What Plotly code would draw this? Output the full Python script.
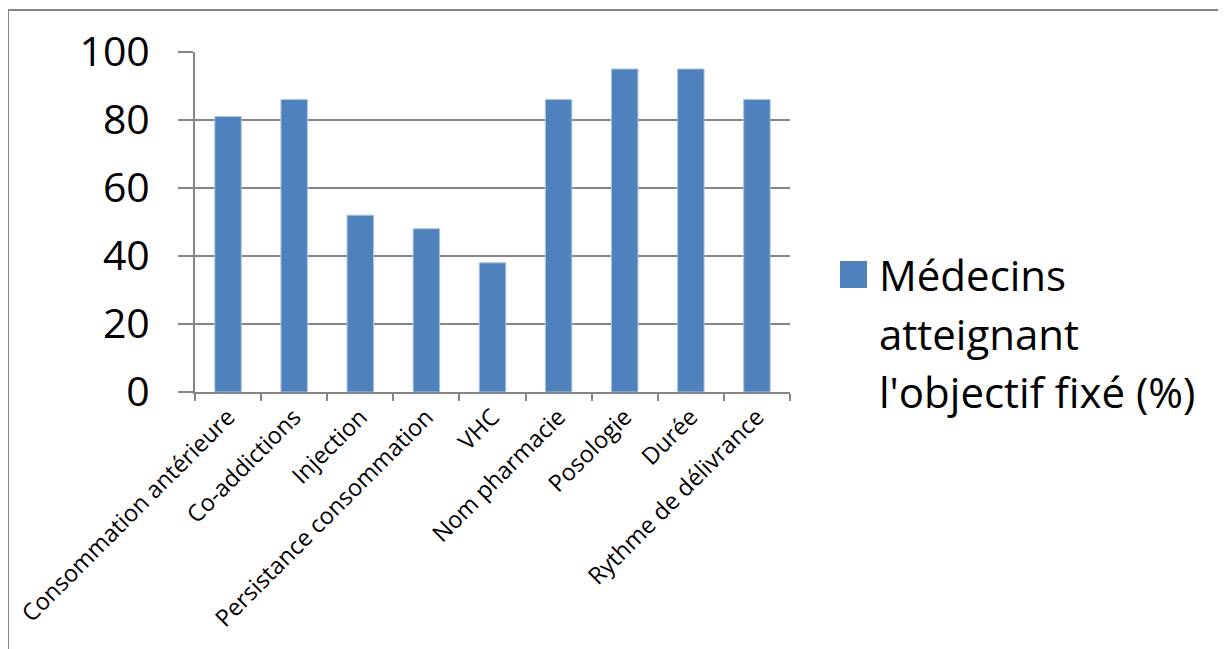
import plotly.graph_objects as go

categories = ["Consommation antérieure", "Co-addictions", "Injection",
              "Persistance consommation", "VHC", "Nom pharmacie",
              "Posologie", "Durée", "Rythme de délivrance"]
values = [81, 86, 52, 48, 38, 86, 95, 95, 86]
series_name = "Médecins atteignant l'objectif fixé (%)"
legend_lines = ["Médecins", "atteignant", "l'objectif fixé (%)"]
y_ticks = [0, 20, 40, 60, 80, 100]

W, H = 1226, 649
OFF = 8  # page body offset
L, R, T, B = 195, 790, 52, 392  # target plot area in screenshot pixels
pw, ph = R - L, B - T

def px(x):
    return (x - L) / pw

def py(y):
    return (B - y) / ph

FONT = "Open Sans"
BAR = "#4F81BD"
GRID = "#868686"

fig = go.Figure(go.Bar(
    x=categories, y=values, name=series_name,
    marker=dict(color=BAR, line=dict(color="#A9C1DF", width=1)),
    showlegend=False,
))

shapes = [
    # chart frame (left and top edges)
    dict(type="line", xref="paper", yref="paper", x0=px(8), x1=px(8), y0=py(10), y1=py(700),
         line=dict(color=GRID, width=2)),
    dict(type="line", xref="paper", yref="paper", x0=px(8), x1=px(1300), y0=py(10), y1=py(10),
         line=dict(color=GRID, width=2)),
    # legend swatch
    dict(type="rect", xref="paper", yref="paper", x0=px(840), x1=px(867), y0=py(261), y1=py(288),
         fillcolor=BAR, line=dict(width=0)),
]

baselines = [288, 347, 405]
annotations = [
    dict(text=t, xref="paper", yref="paper", x=px(877), y=py(b - 14), xanchor="left",
         yanchor="middle", showarrow=False, font=dict(family=FONT, size=42, color="black"))
    for t, b in zip(legend_lines, baselines)
]

fig.update_layout(
    template="none",
    width=W, height=H,
    margin=dict(l=L - OFF, r=W - R + OFF, t=T - OFF, b=H - B + OFF, pad=0, autoexpand=False),
    paper_bgcolor="white", plot_bgcolor="white",
    bargap=0.6,
    font=dict(family=FONT, color="black"),
    shapes=shapes, annotations=annotations,
    xaxis=dict(
        automargin=False,
        showline=True, linecolor=GRID, linewidth=2,
        ticks="outside", tickson="boundaries", ticklen=7, tickcolor=GRID, tickwidth=2,
        tickangle=-45, tickfont=dict(family=FONT, size=23.5, color="black"),
        showgrid=False,
    ),
    yaxis=dict(
        automargin=False,
        range=[0, 100], tickvals=y_ticks, ticktext=[str(v) for v in y_ticks],
        showline=True, linecolor=GRID, linewidth=2,
        showgrid=True, gridcolor=GRID, gridwidth=2,
        ticks="outside", ticklen=15, tickcolor=GRID, tickwidth=2,
        ticklabelstandoff=20,
        tickfont=dict(family=FONT, size=41, color="black"),
        zeroline=False,
    ),
)

fig.write_html("out.html")
